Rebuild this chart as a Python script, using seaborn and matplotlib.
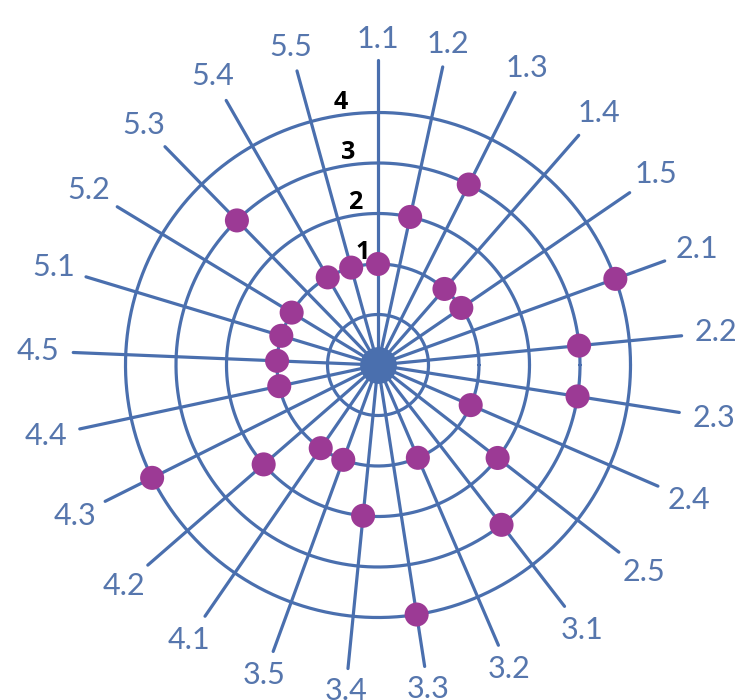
import numpy as np
import pandas as pd
import matplotlib
matplotlib.use("Agg")
import matplotlib.pyplot as plt
import seaborn as sns

# spoke labels, clockwise from the top
spokes = ["1.1", "1.2", "1.3", "1.4", "1.5",
          "2.1", "2.2", "2.3", "2.4", "2.5",
          "3.1", "3.2", "3.3", "3.4", "3.5",
          "4.1", "4.2", "4.3", "4.4", "4.5",
          "5.1", "5.2", "5.3", "5.4", "5.5"]
# level of the dot on each spoke
levels = [1, 2, 3, 1, 1,
          4, 3, 3, 1, 2,
          3, 1, 4, 2, 1,
          1, 2, 4, 1, 1,
          1, 1, 3, 1, 1]
ring_labels = ["1", "2", "3", "4"]

line_col = "#4a6fae"
text_col = "#5676ad"
dot_col = "#9c3a95"

sns.set_theme(style="white")
plt.rcParams['font.family'] = ['Lato', 'DejaVu Sans']

# angle of each spoke (deg, counter-clockwise from x axis)
ang = np.array([90.0] + [92.2 - 14.45 * i for i in range(1, len(spokes))])
th = np.deg2rad(ang)

df = pd.DataFrame({"spoke": spokes, "level": levels})
df["R"] = df["level"] + 1
df["x"] = df["R"] * np.cos(th)
df["y"] = df["R"] * np.sin(th)

fig = plt.figure(figsize=(7.4, 7.0), dpi=100)
ax = fig.add_axes([0, 0, 1, 1])

# rings (level 0 is the inner ring)
t = np.linspace(0, 2 * np.pi, 400)
for R in range(1, 6):
  ax.plot(R * np.cos(t), R * np.sin(t), color=line_col, lw=2.3, zorder=1)

# spokes
r_end = 6.04
for a in th:
  ax.plot([0, r_end * np.cos(a)], [0, r_end * np.sin(a)],
          color=line_col, lw=2.3, zorder=1)
ax.scatter([0], [0], s=700, color=line_col, zorder=2, linewidths=0)

# dots
sns.scatterplot(data=df, x="x", y="y", s=300, color=dot_col,
                edgecolor="none", linewidth=0, ax=ax, zorder=3, legend=False)

# spoke labels
for lab, a in zip(spokes, th):
  rl = 6.45 + 0.28 * abs(np.cos(a))
  ax.text(rl * np.cos(a), rl * np.sin(a), lab, ha="center", va="center",
          fontsize=22, color=text_col)

# ring labels
la = np.deg2rad(98)
for i, lab in enumerate(ring_labels):
  R = i + 2 + 0.24
  ax.text(R * np.cos(la), R * np.sin(la), lab, ha="center", va="center",
          fontsize=18, fontweight="bold", color="black", zorder=4,
          family=["Open Sans", "DejaVu Sans"])

ax.set_xlim(-378 / 50.5, (740 - 378) / 50.5)
ax.set_ylim(-(700 - 365) / 50.5, 365 / 50.5)
ax.set_aspect("equal")
ax.axis("off")

fig.savefig("out.png", dpi=100)
